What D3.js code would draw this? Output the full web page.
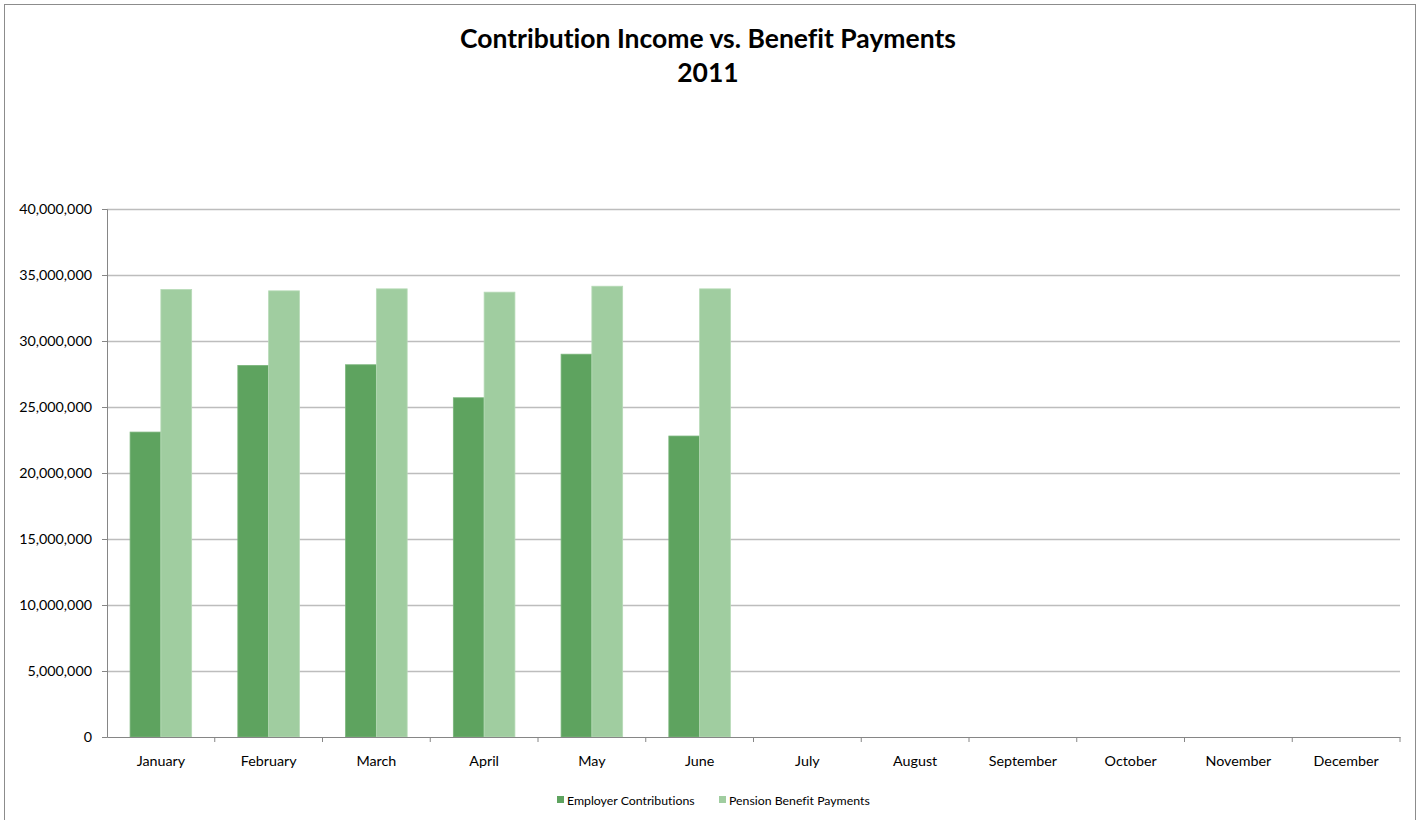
<!DOCTYPE html>
<html>
<head>
<meta charset="utf-8">
<script src="https://cdn.jsdelivr.net/npm/d3@7"></script>
<style>
  body { margin: 0; background: #fff; }
  svg { display: block; font-variant-ligatures: none; }
</style>
</head>
<body>
<div class="chart"></div>
<script>
// Chart data
var months = ["January", "February", "March", "April", "May", "June",
    "July", "August", "September", "October", "November", "December"];
var employerContributions = [23100000, 28150000, 28200000, 25700000, 29000000, 22800000,
    null, null, null, null, null, null];
var pensionPayments = [33900000, 33800000, 33950000, 33700000, 34150000, 33950000,
    null, null, null, null, null, null];
var seriesNames = ["Employer Contributions", "Pension Benefit Payments"];
var yTicks = [0, 5000000, 10000000, 15000000, 20000000, 25000000, 30000000, 35000000, 40000000];

var width = 1424;
var height = 820;
var margin = ({ top: 209, right: 24, bottom: 83, left: 107 });
var font = "Lato, 'Open Sans', sans-serif";

var colors = d3.scaleOrdinal()
    .domain(seriesNames)
    .range(["#5ea35f", "#a0cda0"]);

var data = months.map((m, i) => ({
    month: m,
    values: [employerContributions[i], pensionPayments[i]]
}));

const svg = d3.select("div.chart")
    .append("svg")
    .attr("width", width)
    .attr("height", height);

// Outer frame of the chart
svg.append("rect")
    .attr("x", 4.5)
    .attr("y", 4.5)
    .attr("width", 1411)
    .attr("height", 820)
    .attr("fill", "white")
    .attr("stroke", "#8c8c8c");

// Title
svg.append("g")
    .attr("font-family", font)
    .attr("font-weight", "bold")
    .attr("font-size", 26.5)
    .attr("text-anchor", "middle")
    .attr("fill", "#000")
    .selectAll("text")
    .data(["Contribution Income vs. Benefit Payments", "2011"])
    .join("text")
    .attr("x", 708)
    .attr("y", (d, i) => 48 + i * 34)
    .text(d => d);

// Scales
var x0 = d3.scaleBand()
    .domain(months)
    .range([margin.left, width - margin.right]);
// two bars plus a 75% gap (of one bar) on each side
var barW = x0.bandwidth() / 3.5;
var x1 = d3.scaleBand()
    .domain(seriesNames)
    .range([x0.bandwidth() / 2 - barW, x0.bandwidth() / 2 + barW]);
var y = d3.scaleLinear()
    .domain([0, 40000000])
    .range([height - margin.bottom, margin.top]);

// Grid lines
svg.append("g")
    .attr("transform", `translate(${margin.left},0)`)
    .call(d3.axisRight(y).tickValues(yTicks.slice(1)).tickSize(width - margin.left - margin.right).tickFormat(""))
    .call(g => g.select(".domain").remove())
    .call(g => g.selectAll(".tick line")
        .attr("stroke", "#bdbdbd")
        .attr("stroke-width", 1.3));

// Bars
svg.append("g")
    .selectAll("g")
    .data(data)
    .join("g")
    .attr("transform", d => `translate(${x0(d.month)},0)`)
    .selectAll("rect")
    .data(d => d.values.map((v, i) => ({ key: seriesNames[i], value: v })).filter(d => d.value != null))
    .join("rect")
    .attr("x", d => x1(d.key))
    .attr("y", d => y(d.value))
    .attr("width", x1.bandwidth())
    .attr("height", d => y(0) - y(d.value))
    .attr("fill", d => colors(d.key))
    .attr("stroke", d => d.key === seriesNames[0] ? "#7ab57b" : "#b6dab6")
    .attr("stroke-width", 0.8);

// Axes
svg.append("g")
    .attr("transform", `translate(${margin.left},0)`)
    .call(d3.axisLeft(y).tickValues(yTicks).tickSize(5).tickPadding(10).tickFormat(d3.format(",")))
    .call(g => g.selectAll("line, path").attr("stroke", "#868686"))
    .call(g => g.selectAll("text")
        .attr("font-family", font)
        .attr("font-size", 14.3)
        .attr("fill", "#000"));

svg.append("g")
    .attr("transform", `translate(0,${height - margin.bottom})`)
    .call(d3.axisBottom(x0).tickSize(0).tickPadding(19))
    .call(g => g.select(".domain").attr("stroke", "#868686"))
    .call(g => g.selectAll("text")
        .attr("font-family", font)
        .attr("font-size", 14.3)
        .attr("fill", "#000"));

// Tick marks between the months
svg.append("g")
    .selectAll("line")
    .data(months)
    .join("line")
    .attr("x1", d => x0(d) + x0.bandwidth())
    .attr("x2", d => x0(d) + x0.bandwidth())
    .attr("y1", height - margin.bottom)
    .attr("y2", height - margin.bottom + 5)
    .attr("stroke", "#868686");

// Legend
var legendX = [557, 719];
var legend = svg.append("g")
    .attr("font-family", font)
    .attr("font-size", 12.3);
legend.selectAll("rect")
    .data(seriesNames)
    .join("rect")
    .attr("x", (d, i) => legendX[i])
    .attr("y", 796)
    .attr("width", 7)
    .attr("height", 7)
    .attr("fill", d => colors(d));
legend.selectAll("text")
    .data(seriesNames)
    .join("text")
    .attr("x", (d, i) => legendX[i] + 10)
    .attr("y", 800)
    .attr("dominant-baseline", "central")
    .attr("fill", "#000")
    .text(d => d);
</script>
</body>
</html>
